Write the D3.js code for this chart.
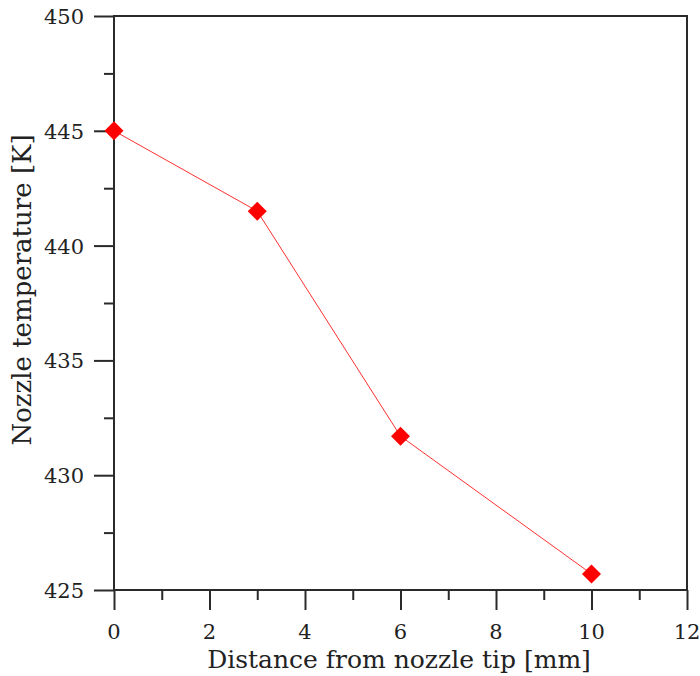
<!DOCTYPE html>
<html>
<head>
<meta charset="utf-8">
<script src="https://cdn.jsdelivr.net/npm/d3@7"></script>
</head>
<body style="margin:0">
<script>
// data
let distance = [0, 3, 6, 10];
let temperature = [445, 441.5, 431.7, 425.7];
let xTicks = [0, 2, 4, 6, 8, 10, 12];
let yTicks = [425, 430, 435, 440, 445, 450];

let fontName = "'DejaVu Serif'";

function main() {
    let width = 700;
    let height = 676;
    let left = 114, right = 687, top = 16, bottom = 590;

    let svg = d3.select("body").append("svg")
        .attr("width", width)
        .attr("height", height);

    let xScale = d3.scaleLinear().domain([0, 12]).range([left, right]);
    let yScale = d3.scaleLinear().domain([425, 450]).range([bottom, top]);

    let axisColor = "#2a2a2a";

    // minor ticks
    let xMinor = d3.range(1, 12, 2);
    let yMinor = d3.range(427.5, 450, 5);

    svg.append("g")
        .attr("transform", "translate(0," + bottom + ")")
        .call(d3.axisBottom(xScale).tickValues(xMinor).tickSize(10).tickFormat(""))
        .call(g => g.select(".domain").remove())
        .call(g => g.selectAll("line").attr("stroke", axisColor).attr("stroke-width", 2));

    svg.append("g")
        .attr("transform", "translate(" + left + ",0)")
        .call(d3.axisLeft(yScale).tickValues(yMinor).tickSize(10).tickFormat(""))
        .call(g => g.select(".domain").remove())
        .call(g => g.selectAll("line").attr("stroke", axisColor).attr("stroke-width", 2));

    // major ticks
    let xAxis = svg.append("g")
        .attr("transform", "translate(0," + bottom + ")")
        .call(d3.axisBottom(xScale).tickValues(xTicks).tickSize(20).tickFormat(""));
    xAxis.select(".domain").remove();
    xAxis.selectAll("line").attr("stroke", axisColor).attr("stroke-width", 2);

    let yAxis = svg.append("g")
        .attr("transform", "translate(" + left + ",0)")
        .call(d3.axisLeft(yScale).tickValues(yTicks).tickSize(20).tickFormat(""));
    yAxis.select(".domain").remove();
    yAxis.selectAll("line").attr("stroke", axisColor).attr("stroke-width", 2);

    // tick labels
    svg.selectAll(".xlab")
        .data(xTicks)
        .enter()
        .append("text")
        .attr("x", d => xScale(d))
        .attr("y", 639)
        .attr("text-anchor", "middle")
        .attr("font-size", 21)
        .style("font-family", fontName)
        .attr("fill", "#222")
        .text(d => d);

    svg.selectAll(".ylab")
        .data(yTicks)
        .enter()
        .append("text")
        .attr("x", left - 30)
        .attr("y", d => yScale(d) + 8)
        .attr("text-anchor", "end")
        .attr("font-size", 21)
        .style("font-family", fontName)
        .attr("fill", "#222")
        .text(d => d);

    // frame
    svg.append("rect")
        .attr("x", left)
        .attr("y", top)
        .attr("width", right - left)
        .attr("height", bottom - top)
        .attr("fill", "none")
        .attr("stroke", axisColor)
        .attr("stroke-width", 2);

    let points = distance.map((d, i) => [d, temperature[i]]);

    svg.append("path")
        .datum(points)
        .attr("fill", "none")
        .attr("stroke", "#ff3030")
        .attr("stroke-width", 1)
        .attr("d", d3.line().x(d => xScale(d[0])).y(d => yScale(d[1])));

    svg.append("g")
        .selectAll("path")
        .data(points)
        .enter()
        .append("path")
        .attr("transform", d => "translate(" + xScale(d[0]) + "," + yScale(d[1]) + ")")
        .attr("d", "M0,-9.5L9.5,0L0,9.5L-9.5,0Z")
        .attr("fill", "#ff0000");

    // axis titles
    svg.append("text")
        .attr("x", 399)
        .attr("y", 668)
        .attr("text-anchor", "middle")
        .attr("font-size", 25)
        .style("font-family", fontName)
        .attr("fill", "#222")
        .text("Distance from nozzle tip [mm]");

    svg.append("text")
        .attr("transform", "translate(31,290) rotate(-90)")
        .attr("text-anchor", "middle")
        .attr("font-size", 26)
        .style("font-family", fontName)
        .attr("fill", "#222")
        .text("Nozzle temperature [K]");
}

main();
</script>
</body>
</html>
